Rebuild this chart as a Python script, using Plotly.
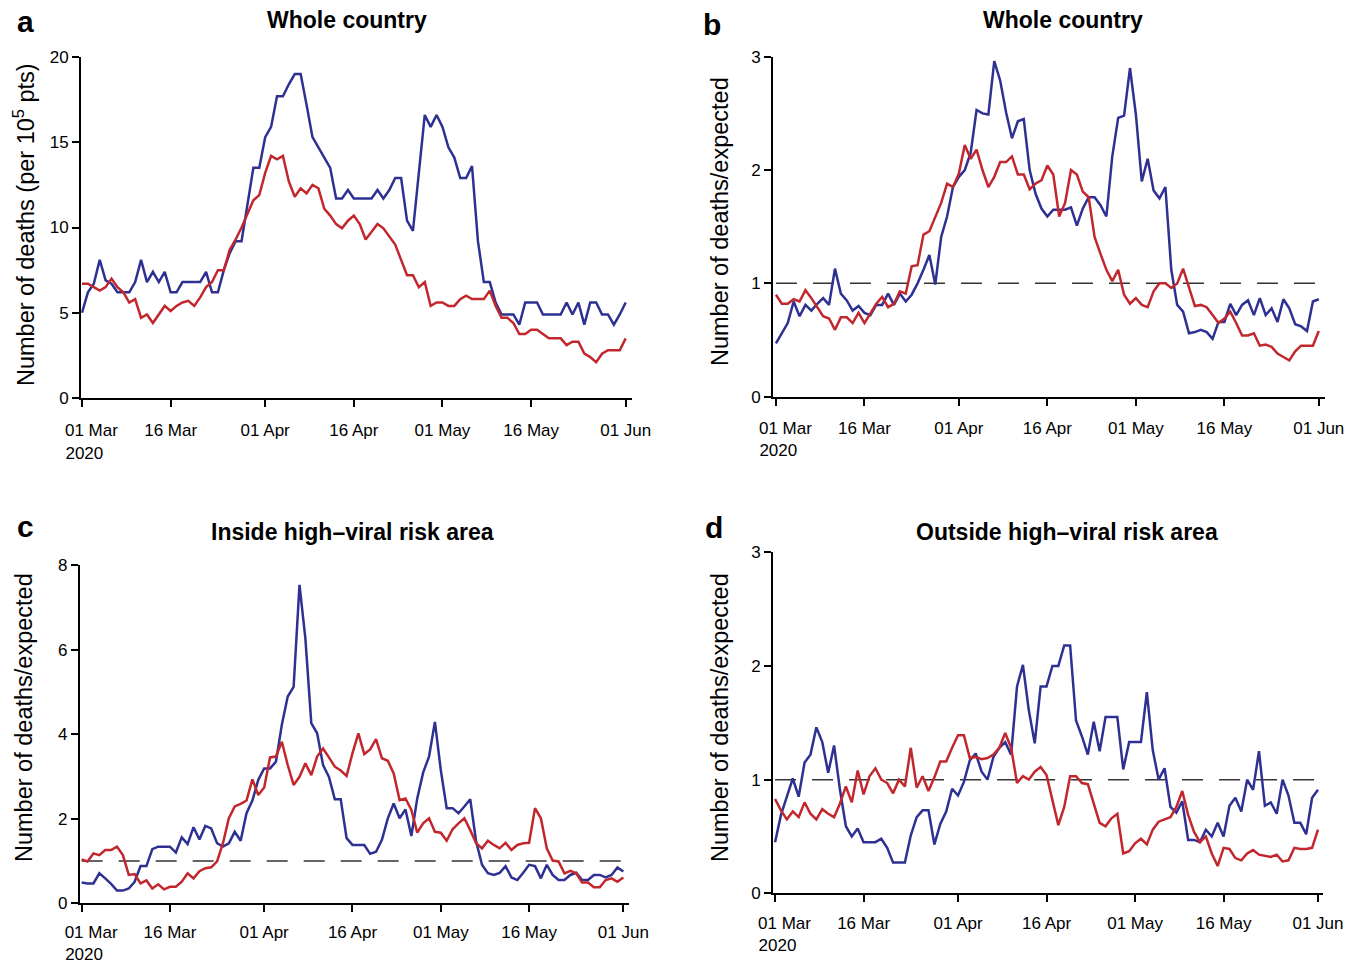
import plotly.graph_objects as go
import pandas as pd

# ---------------- data ----------------
dates = pd.date_range("2020-03-01", periods=93, freq="D")

tick_dates = ["2020-03-01", "2020-03-16", "2020-04-01", "2020-04-16",
              "2020-05-01", "2020-05-16", "2020-06-01"]
NB = "\u00a0"
tick_labels = [NB * 4 + "01 Mar<br>" + NB * 4 + "2020" + NB * 3, "16 Mar", "01 Apr",
               "16 Apr", "01 May", "16 May", "01 Jun"]

a_blue = [5.0, 6.2, 6.7, 8.1, 6.9, 6.7, 6.2, 6.2, 6.2, 6.8,
          8.1, 6.8, 7.4, 6.8, 7.4, 6.2, 6.2, 6.8, 6.8, 6.8,
          6.8, 7.4, 6.2, 6.2, 7.5, 8.5, 9.2, 9.2, 11.4, 13.5,
          13.5, 15.3, 15.9, 17.7, 17.7, 18.4, 19.0, 19.0, 17.2, 15.3,
          14.7, 14.1, 13.5, 11.7, 11.7, 12.2, 11.7, 11.7, 11.7, 11.7,
          12.2, 11.7, 12.2, 12.9, 12.9, 10.4, 9.8, 13.4, 16.6, 15.9,
          16.6, 15.9, 14.7, 14.1, 12.9, 12.9, 13.6, 9.2, 6.8, 6.8,
          5.6, 4.9, 4.9, 4.9, 4.3, 5.6, 5.6, 5.6, 4.9, 4.9,
          4.9, 4.9, 5.6, 4.9, 5.6, 4.3, 5.6, 5.6, 4.9, 4.9,
          4.3, 4.9, 5.6]
a_red = [6.7, 6.7, 6.5, 6.3, 6.5, 7.0, 6.5, 6.2, 5.6, 5.8,
         4.7, 4.9, 4.4, 4.9, 5.4, 5.1, 5.4, 5.6, 5.7, 5.4,
         5.9, 6.5, 6.8, 7.5, 7.5, 8.7, 9.3, 10.0, 10.8, 11.6,
         11.9, 13.2, 14.2, 14.0, 14.2, 12.7, 11.8, 12.3, 12.0, 12.5,
         12.3, 11.1, 10.7, 10.2, 9.95, 10.4, 10.7, 10.2, 9.3, 9.75,
         10.2, 9.95, 9.5, 9.0, 8.1, 7.2, 7.2, 6.5, 6.8, 5.4,
         5.6, 5.6, 5.4, 5.4, 5.8, 6.0, 5.8, 5.8, 5.8, 6.3,
         5.4, 4.7, 4.7, 4.4, 3.75, 3.75, 4.0, 4.0, 3.75, 3.5,
         3.5, 3.5, 3.1, 3.3, 3.3, 2.6, 2.4, 2.1, 2.6, 2.8,
         2.8, 2.8, 3.5]

b_blue = [0.47, 0.56, 0.65, 0.84, 0.71, 0.81, 0.76, 0.82, 0.87, 0.81,
          1.13, 0.91, 0.85, 0.76, 0.80, 0.74, 0.72, 0.81, 0.81, 0.91,
          0.81, 0.91, 0.84, 0.90, 1.0, 1.12, 1.25, 0.99, 1.41, 1.59,
          1.85, 1.94, 2.0, 2.15, 2.53, 2.5, 2.49, 2.96, 2.79, 2.51,
          2.28, 2.43, 2.45, 2.0, 1.79, 1.66, 1.59, 1.65, 1.65, 1.65,
          1.67, 1.51, 1.66, 1.76, 1.76, 1.69, 1.59, 2.12, 2.46, 2.48,
          2.9, 2.49, 1.9, 2.1, 1.82, 1.75, 1.85, 1.12, 0.81, 0.75,
          0.56, 0.57, 0.59, 0.57, 0.51, 0.66, 0.66, 0.82, 0.72, 0.81,
          0.85, 0.72, 0.87, 0.72, 0.78, 0.66, 0.86, 0.78, 0.64, 0.62,
          0.58, 0.84, 0.86]
b_red = [0.9, 0.82, 0.82, 0.86, 0.84, 0.94, 0.87, 0.79, 0.71, 0.69,
         0.59, 0.7, 0.7, 0.65, 0.74, 0.65, 0.73, 0.82, 0.88, 0.79,
         0.82, 0.93, 0.91, 1.15, 1.16, 1.43, 1.46, 1.59, 1.71, 1.88,
         1.85, 1.97, 2.22, 2.1, 2.18, 2.0, 1.85, 1.94, 2.07, 2.07,
         2.12, 1.96, 1.96, 1.83, 1.88, 1.91, 2.04, 1.96, 1.59, 1.71,
         2.0, 1.96, 1.81, 1.76, 1.41, 1.26, 1.12, 1.02, 1.12, 0.9,
         0.82, 0.87, 0.81, 0.79, 0.93, 1.0, 1.0, 0.96, 1.0, 1.13,
         0.97, 0.8, 0.81, 0.79, 0.72, 0.65, 0.69, 0.75, 0.65, 0.54,
         0.54, 0.56, 0.45, 0.46, 0.44, 0.38, 0.35, 0.32, 0.4, 0.45,
         0.45, 0.45, 0.58]

c_blue = [0.49, 0.47, 0.47, 0.71, 0.59, 0.46, 0.3, 0.3, 0.35, 0.51,
          0.88, 0.88, 1.28, 1.34, 1.34, 1.34, 1.2, 1.56, 1.4, 1.8,
          1.51, 1.83, 1.77, 1.42, 1.34, 1.42, 1.69, 1.48, 2.13, 2.43,
          2.92, 3.19, 3.19, 3.35, 4.22, 4.89, 5.12, 7.53, 6.26, 4.26,
          4.02, 3.27, 2.99, 2.46, 2.46, 1.54, 1.38, 1.38, 1.38, 1.17,
          1.22, 1.5, 2.01, 2.36, 2.01, 2.22, 1.59, 2.48, 3.09, 3.47,
          4.29, 3.15, 2.25, 2.25, 2.13, 2.29, 2.46, 1.46, 0.91, 0.71,
          0.67, 0.72, 0.88, 0.61, 0.55, 0.72, 0.91, 0.88, 0.59, 0.91,
          0.67, 0.55, 0.55, 0.67, 0.72, 0.55, 0.55, 0.67, 0.67, 0.61,
          0.67, 0.85, 0.75]
c_red = [1.04, 0.99, 1.18, 1.14, 1.26, 1.26, 1.34, 1.14, 0.67, 0.69,
         0.47, 0.54, 0.35, 0.45, 0.33, 0.39, 0.39, 0.51, 0.71, 0.59,
         0.76, 0.83, 0.85, 0.99, 1.42, 2.01, 2.29, 2.35, 2.43, 2.93,
         2.56, 2.74, 3.45, 3.47, 3.82, 3.27, 2.8, 2.99, 3.31, 3.03,
         3.47, 3.66, 3.45, 3.23, 3.14, 3.01, 3.55, 4.02, 3.53, 3.64,
         3.88, 3.43, 3.37, 3.07, 2.44, 2.48, 2.21, 1.67, 1.89, 2.01,
         1.69, 1.67, 1.48, 1.75, 1.89, 2.01, 1.73, 1.42, 1.3, 1.48,
         1.38, 1.3, 1.43, 1.26, 1.38, 1.42, 1.43, 2.25, 2.01, 1.3,
         1.01, 0.99, 0.71, 0.77, 0.71, 0.49, 0.49, 0.38, 0.38, 0.55,
         0.59, 0.51, 0.61]

d_blue = [0.45, 0.69, 0.85, 1.01, 0.85, 1.15, 1.22, 1.46, 1.33, 1.06,
          1.3, 0.91, 0.59, 0.5, 0.57, 0.45, 0.45, 0.45, 0.48, 0.4,
          0.27, 0.27, 0.27, 0.51, 0.67, 0.73, 0.73, 0.43, 0.61, 0.72,
          0.92, 0.86, 0.98, 1.17, 1.23, 1.07, 1.0, 1.2, 1.28, 1.33,
          1.22, 1.82, 2.01, 1.61, 1.32, 1.82, 1.82, 2.0, 2.0, 2.18,
          2.18, 1.52, 1.38, 1.22, 1.51, 1.25, 1.55, 1.55, 1.55, 1.09,
          1.33, 1.33, 1.33, 1.77, 1.26, 1.0, 1.1, 0.76, 0.71, 0.81,
          0.47, 0.47, 0.45, 0.56, 0.5, 0.62, 0.5, 0.77, 0.84, 0.72,
          1.0, 0.91, 1.25, 0.77, 0.8, 0.7, 1.0, 0.86, 0.62, 0.62,
          0.52, 0.84, 0.91]
d_red = [0.83, 0.73, 0.65, 0.72, 0.67, 0.8, 0.7, 0.65, 0.74, 0.7,
         0.67, 0.79, 0.94, 0.8, 1.08, 0.87, 1.03, 1.1, 1.0, 0.97,
         0.88, 1.0, 0.94, 1.28, 0.93, 1.03, 0.9, 1.02, 1.16, 1.16,
         1.28, 1.39, 1.39, 1.19, 1.2, 1.18, 1.19, 1.22, 1.28, 1.41,
         1.28, 0.97, 1.03, 1.0, 1.07, 1.11, 1.04, 0.82, 0.6, 0.76,
         1.03, 1.03, 0.97, 0.96, 0.79, 0.62, 0.59, 0.66, 0.7, 0.35,
         0.37, 0.44, 0.48, 0.43, 0.56, 0.63, 0.65, 0.67, 0.76, 0.9,
         0.69, 0.54, 0.45, 0.5, 0.35, 0.24, 0.4, 0.39, 0.31, 0.29,
         0.35, 0.38, 0.34, 0.33, 0.32, 0.34, 0.28, 0.29, 0.4, 0.39,
         0.39, 0.4, 0.56]

# ---------------- layout helpers ----------------
W, H = 1366, 965
BLUE = "#2E3192"
RED = "#C1272D"
FONT = "Liberation Sans, Arial, Helvetica, sans-serif"


def px_x(p):
    return p / W


def px_y(p):
    return 1 - p / H


def day(d):
    return (pd.Timestamp("2020-03-01") + pd.Timedelta(days=d)).strftime("%Y-%m-%d %H:%M:%S")


panels = [
    dict(blue=a_blue, red=a_red, x0=81.1, x1=631.6, y0=398, y1=57, r=[-0.15, 93.0],
         yr=[0, 20], yt=[0, 5, 10, 15, 20], dash=False, so=9),
    dict(blue=b_blue, red=b_red, x0=773.0, x1=1324.7, y0=396.7, y1=56.7, r=[-0.5, 93.0],
         yr=[0, 3], yt=[0, 1, 2, 3], dash=True, so=8),
    dict(blue=c_blue, red=c_red, x0=79.9, x1=629.2, y0=903.3, y1=565, r=[-0.3, 93.0],
         yr=[0, 8], yt=[0, 2, 4, 6, 8], dash=True, so=5),
    dict(blue=d_blue, red=d_red, x0=773.0, x1=1323.3, y0=893.3, y1=552.3, r=[-0.35, 92.9],
         yr=[0, 3], yt=[0, 1, 2, 3], dash=True, so=6),
]

fig = go.Figure()
shapes = []
layout_axes = {}
for i, p in enumerate(panels):
    k = "" if i == 0 else str(i + 1)
    xa, ya = "x" + k, "y" + k
    fig.add_trace(go.Scatter(x=dates, y=p["blue"], mode="lines", xaxis=xa, yaxis=ya,
                             line=dict(color=BLUE, width=2.5), showlegend=False))
    fig.add_trace(go.Scatter(x=dates, y=p["red"], mode="lines", xaxis=xa, yaxis=ya,
                             line=dict(color=RED, width=2.5), showlegend=False))
    layout_axes["xaxis" + k] = dict(
        domain=[px_x(p["x0"]), px_x(p["x1"])], anchor=ya, type="date",
        range=[day(p["r"][0]), day(p["r"][1])], automargin=False,
        tickvals=tick_dates, ticktext=tick_labels, ticks="outside", ticklen=7,
        tickwidth=2, tickcolor="black", showline=True, linecolor="black", linewidth=2,
        showgrid=False, zeroline=False, tickfont=dict(size=17, color="black", family=FONT),
        ticklabelstandoff=p["so"], fixedrange=True)
    layout_axes["yaxis" + k] = dict(
        domain=[px_y(p["y0"]), px_y(p["y1"])], anchor=xa, range=p["yr"], automargin=False,
        tickvals=p["yt"], ticks="outside", ticklen=7, tickwidth=2, tickcolor="black",
        showline=True, linecolor="black", linewidth=2, showgrid=False, zeroline=False,
        tickfont=dict(size=17, color="black", family=FONT), fixedrange=True)
    if p["dash"]:
        shapes.append(dict(type="line", xref=xa, yref=ya, x0="2020-03-01", x1="2020-06-01",
                           y0=1, y1=1, layer="below",
                           line=dict(color="#333333", width=1.5, dash="21px,16px")))

annotations = []
letters = [("a", 25, 22), ("b", 712, 24), ("c", 25, 526), ("d", 714, 527)]
for t, x, y in letters:
    annotations.append(dict(text="<b>%s</b>" % t, x=px_x(x), y=px_y(y), xref="paper", yref="paper",
                            xanchor="center", yanchor="middle", showarrow=False,
                            font=dict(size=30, color="black", family=FONT)))
titles = [("Whole country", 347, 20), ("Whole country", 1063, 20),
          ("Inside high\u2013viral risk area", 352, 532),
          ("Outside high\u2013viral risk area", 1067, 532)]
for t, x, y in titles:
    annotations.append(dict(text="<b>%s</b>" % t, x=px_x(x), y=px_y(y), xref="paper", yref="paper",
                            xanchor="center", yanchor="middle", showarrow=False,
                            font=dict(size=23, color="black", family=FONT)))
ytitles = [("Number of deaths (per 10<sup>5</sup> pts)", 24, 225),
           ("Number of deaths/expected", 720, 222),
           ("Number of deaths/expected", 24, 718),
           ("Number of deaths/expected", 720, 718)]
for t, x, y in ytitles:
    annotations.append(dict(text=t, x=px_x(x), y=px_y(y), xref="paper", yref="paper",
                            xanchor="center", yanchor="middle", showarrow=False, textangle=-90,
                            font=dict(size=23.5, color="black", family=FONT)))

fig.update_layout(
    width=W, height=H, autosize=False,
    margin=dict(l=0, r=0, t=0, b=0, pad=0, autoexpand=False),
    paper_bgcolor="white", plot_bgcolor="white",
    font=dict(family=FONT, color="black"),
    shapes=shapes, annotations=annotations, showlegend=False,
    **layout_axes)

fig.write_html("out.html", config={"displayModeBar": False},
               post_script="document.body.style.margin='0';document.body.style.overflow='hidden';")
